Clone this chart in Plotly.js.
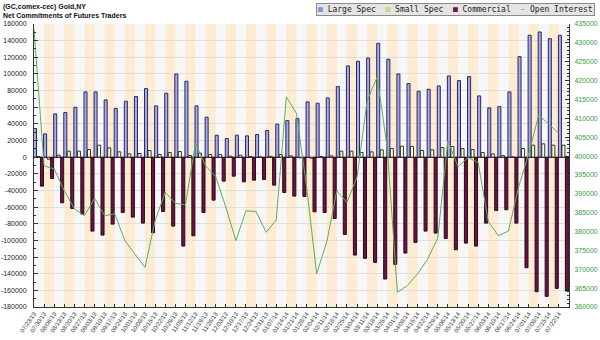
<!DOCTYPE html>
<html>
<head>
<meta charset="utf-8">
<script src="https://cdn.plot.ly/plotly-3.0.1.min.js"></script>
<style>html,body{margin:0;padding:0;background:#fff}#chart{width:600px;height:340px}</style>
</head>
<body>
<div id="chart"></div>
<script>
const titleLines = ["(GC,comex-cec) Gold,NY", "Net Commitments of Futures Traders"];

const dates = ["07/23/13","07/30/13","08/06/13","08/13/13","08/20/13","08/27/13","09/03/13","09/10/13","09/17/13","09/24/13","10/01/13","10/08/13","10/15/13","10/22/13","10/29/13","11/05/13","11/12/13","11/19/13","11/26/13","12/03/13","12/10/13","12/17/13","12/24/13","12/31/13","01/07/14","01/14/14","01/21/14","01/28/14","02/04/14","02/11/14","02/18/14","02/25/14","03/04/14","03/11/14","03/18/14","03/25/14","04/01/14","04/08/14","04/15/14","04/22/14","04/29/14","05/06/14","05/13/14","05/20/14","05/27/14","06/03/14","06/10/14","06/17/14","06/24/14","07/01/14","07/08/14","07/15/14","07/22/14"];

const largeSpec = [34400,28000,52000,53600,60000,78400,78400,68800,58400,67200,72800,82400,61600,76800,100000,91200,61600,48000,26400,22400,26400,25600,27200,32000,39600,44000,46400,66400,64800,71200,84800,109600,115200,119200,136800,117600,100000,88400,79200,81600,85600,97600,92000,96800,73600,59200,60800,78400,120800,146400,150400,142400,146400];

const smallSpec = [800,-2400,2400,7200,7200,9200,14400,11200,6400,4000,4400,8000,3200,5600,6800,2000,4800,3200,3200,1200,2400,800,400,800,3200,1600,-800,-1200,800,1600,7200,7200,5600,6400,8800,10400,13200,12800,8000,8800,11600,12800,10400,9200,5600,4000,2000,400,10400,14400,16000,14400,14400];

const commercial = [-34800,-25600,-54800,-61600,-68400,-88800,-93600,-80400,-66400,-72000,-79200,-90800,-65200,-82800,-106800,-94400,-66400,-51600,-28800,-22800,-29600,-27600,-26800,-33600,-42400,-46800,-47200,-65600,-66400,-73600,-92800,-117600,-121600,-126400,-146400,-128800,-115200,-102400,-88800,-91200,-97600,-111200,-103200,-106800,-79200,-64000,-63200,-79200,-132800,-161600,-167200,-157600,-160800];

const openInterest = [433600,397400,396600,390800,386000,384200,388800,384200,384700,377600,374000,370500,382900,390400,387500,387100,403400,397400,394600,386500,377600,385500,385300,379800,383100,415700,411300,392000,368800,377200,390800,387700,394400,414600,421000,402000,363900,365700,368800,372700,378300,404100,397200,399600,398300,382700,378900,380100,391700,400500,410900,408500,406000];

const leftTicks = [160000,140000,120000,100000,80000,60000,40000,20000,0,-20000,-40000,-60000,-80000,-100000,-120000,-140000,-160000,-180000];
const rightTicks = [435000,430000,425000,420000,415000,410000,405000,400000,395000,390000,385000,380000,375000,370000,365000,360000];

const idx = dates.map((d, i) => i);

const traces = [
  {type:'bar', name:'Large Spec', x: idx, y: largeSpec, offset: -0.05, width: 0.3,
   marker:{color:'#a9a9ec', line:{color:'#2a2a5a', width:1}}, yaxis:'y', showlegend:false},
  {type:'bar', name:'Small Spec', x: idx, y: smallSpec, offset: 0.3, width: 0.3,
   marker:{color:'#ffffcc', line:{color:'#333333', width:1}}, yaxis:'y', showlegend:false},
  {type:'bar', name:'Commercial', x: idx, y: commercial, offset: 0.64, width: 0.3,
   marker:{color:'#6a1444', line:{color:'#2a0818', width:1}}, yaxis:'y', showlegend:false},
  {type:'scatter', mode:'lines', name:'Open Interest', x: idx, y: openInterest, yaxis:'y2',
   line:{color:'#5cae5c', width:1}, showlegend:false}
];

const shapes = [];
for (let i = 1; i < dates.length; i += 2) {
  shapes.push({type:'rect', xref:'x', yref:'paper', x0:i, x1:i+1, y0:0, y1:1,
    fillcolor:'#fdebd2', line:{width:0}, layer:'below'});
}

const legendText =
  "<span style='color:#8f8fd8'>■</span> Large Spec  " +
  "<span style='color:#d6d08a'>■</span> Small Spec  " +
  "<span style='color:#6a1444'>■</span> Commercial  " +
  "<span style='color:#3c9a3c'>-</span> Open Interest";

const titleFont = {family: 'Liberation Sans, Arial, sans-serif', size: 7, color: '#111'};

const layout = {
  width: 600, height: 340,
  margin: {l: 34, r: 31, t: 24, b: 33, pad: 0},
  paper_bgcolor: '#ffffff',
  plot_bgcolor: '#f7f7f7',
  font: {family: 'Liberation Sans, Arial, sans-serif', size: 7, color: '#222'},
  barmode: 'overlay',
  showlegend: false,
  xaxis: {
    range: [0, dates.length],
    tickmode: 'array', tickvals: idx, ticktext: dates,
    tickangle: -55,
    tickfont: {size: 6, color: '#333'},
    ticks: 'inside', ticklen: 3, tickcolor: '#333',
    showgrid: false, zeroline: false,
    showline: true, linecolor: '#333', linewidth: 1
  },
  yaxis: {
    range: [-180000, 160000],
    tickmode: 'array', tickvals: leftTicks, ticktext: leftTicks.map(v => String(v)),
    tickfont: {size: 7, color: '#222'},
    ticks: 'inside', ticklen: 4, tickcolor: '#333',
    ticklabelstandoff: 5,
    minor: {dtick: 10000, ticks: 'inside', ticklen: 2, tickcolor: '#333', showgrid: false},
    showgrid: true, gridcolor: '#dedede', gridwidth: 1,
    zeroline: true, zerolinecolor: '#111', zerolinewidth: 1,
    showline: true, linecolor: '#333', linewidth: 1
  },
  yaxis2: {
    overlaying: 'y', side: 'right',
    range: [360000, 435000],
    tickmode: 'array', tickvals: rightTicks, ticktext: rightTicks.map(v => String(v)),
    tickfont: {size: 7, color: '#3c9a3c'},
    ticks: 'inside', ticklen: 4, tickcolor: '#333',
    ticklabelstandoff: 3,
    minor: {dtick: 1000, ticks: 'inside', ticklen: 2, tickcolor: '#333', showgrid: false},
    showgrid: false, zeroline: false,
    showline: true, linecolor: '#333', linewidth: 1
  },
  shapes: shapes,
  annotations: [
    {xref: 'paper', yref: 'paper', x: -0.06, y: 1.078, xanchor: 'left', yanchor: 'top',
     text: '<b>' + titleLines[0] + '</b>', showarrow: false, font: titleFont, borderpad: 0},
    {xref: 'paper', yref: 'paper', x: -0.06, y: 1.047, xanchor: 'left', yanchor: 'top',
     text: '<b>' + titleLines[1] + '</b>', showarrow: false, font: titleFont, borderpad: 0},
    {xref: 'paper', yref: 'paper', x: 1.049, y: 1.075, xanchor: 'right', yanchor: 'top',
     text: legendText, showarrow: false, align: 'left',
     font: {family: 'DejaVu Sans Mono, monospace', size: 8, color: '#222'},
     bgcolor: '#e4e4e4', bordercolor: '#8a8a8a', borderwidth: 1, borderpad: 1}
  ]
};

Plotly.newPlot('chart', traces, layout, {displayModeBar: false, staticPlot: true});
</script>
</body>
</html>
